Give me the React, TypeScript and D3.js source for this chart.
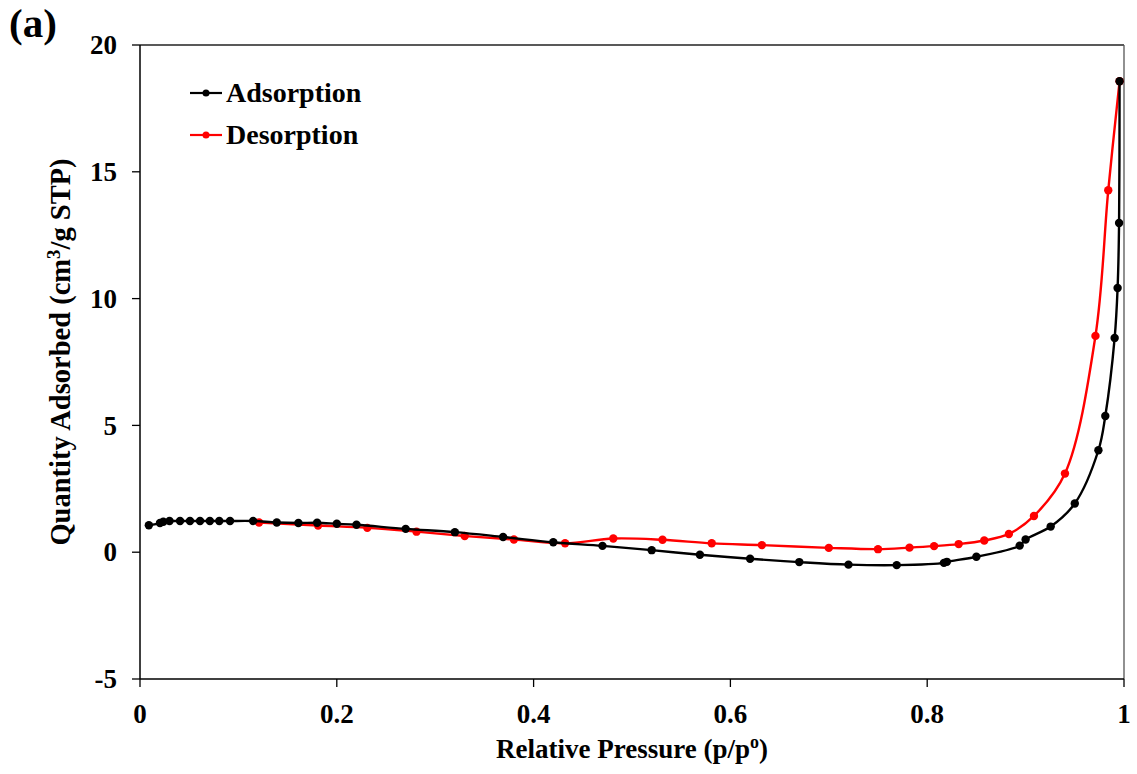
import React from "react";
import * as d3 from "d3";

const adsP = [0.009, 0.0203, 0.0237, 0.030, 0.0407, 0.0508, 0.061, 0.071, 0.0806, 0.0915, 0.115, 0.139, 0.161, 0.18, 0.2, 0.22, 0.27, 0.32, 0.369, 0.42, 0.47, 0.52, 0.569, 0.62, 0.67, 0.72, 0.769, 0.817, 0.820, 0.85, 0.894, 0.900, 0.9255, 0.950, 0.974, 0.981, 0.9905, 0.9935, 0.995, 0.9955];
const adsV = [1.06, 1.15, 1.2, 1.23, 1.23, 1.23, 1.23, 1.23, 1.23, 1.23, 1.23, 1.17, 1.15, 1.16, 1.12, 1.08, 0.92, 0.79, 0.6, 0.39, 0.25, 0.08, -0.1, -0.26, -0.39, -0.49, -0.51, -0.42, -0.38, -0.18, 0.26, 0.5, 1.01, 1.92, 4.02, 5.37, 8.45, 10.42, 12.98, 18.57];

const desP = [0.9955, 0.984, 0.971, 0.940, 0.9085, 0.883, 0.858, 0.832, 0.807, 0.782, 0.750, 0.700, 0.632, 0.581, 0.531, 0.481, 0.432, 0.380, 0.330, 0.281, 0.231, 0.181, 0.121];
const desV = [18.57, 14.27, 8.53, 3.10, 1.43, 0.72, 0.46, 0.32, 0.24, 0.18, 0.12, 0.17, 0.28, 0.35, 0.49, 0.54, 0.35, 0.5, 0.64, 0.81, 0.96, 1.05, 1.17];

const xTicks = [0, 0.2, 0.4, 0.6, 0.8, 1];
const xTickLabels = ["0", "0.2", "0.4", "0.6", "0.8", "1"];
const yTicks = [-5, 0, 5, 10, 15, 20];
const yTickLabels = ["-5", "0", "5", "10", "15", "20"];

const series = [
  { name: "Adsorption", color: "#000000", p: adsP, v: adsV },
  { name: "Desorption", color: "#ff0000", p: desP, v: desV },
];

const FONT = "'Liberation Serif', 'Times New Roman', serif";

export default function App() {
  const W = 1137, H = 774;
  const left = 140, right = 1124, top = 45, bottom = 679;
  const x = d3.scaleLinear().domain([0, 1]).range([left, right]);
  const y = d3.scaleLinear().domain([-5, 20]).range([bottom, top]);

  const line = d3
    .line<[number, number]>()
    .x((d) => x(d[0]))
    .y((d) => y(d[1]))
    .curve(d3.curveCatmullRom.alpha(0.5));

  const order = [series[1], series[0]];

  return (
    <svg width={W} height={H} style={{ position: "absolute", left: 0, top: 0, background: "#fff" }} fontFamily={FONT}>
      <rect x={0} y={0} width={W} height={H} fill="#fff" />
      {/* plot border */}
      <line x1={left} x2={right} y1={top} y2={top} stroke="#222" strokeWidth={1.3} />
      <line x1={right} x2={right} y1={top} y2={bottom} stroke="#555" strokeWidth={1.3} />
      {/* y axis */}
      <line x1={left} x2={left} y1={top} y2={bottom} stroke="#000" strokeWidth={1.5} />
      {yTicks.map((t, i) => (
        <g key={"y" + i}>
          <line x1={left - 8} x2={left} y1={y(t)} y2={y(t)} stroke="#000" strokeWidth={1.3} />
          <text x={117} y={y(t)} dy="0.34em" textAnchor="end" fontSize={27} fontWeight="bold">
            {yTickLabels[i]}
          </text>
        </g>
      ))}
      {/* x axis */}
      <line x1={left} x2={right} y1={bottom} y2={bottom} stroke="#000" strokeWidth={1.5} />
      {xTicks.map((t, i) => (
        <g key={"x" + i}>
          <line x1={x(t)} x2={x(t)} y1={bottom} y2={bottom + 8} stroke="#000" strokeWidth={1.3} />
          <text x={x(t)} y={723} textAnchor="middle" fontSize={27} fontWeight="bold">
            {xTickLabels[i]}
          </text>
        </g>
      ))}
      {/* series */}
      {order.map((s) => {
        const pts: [number, number][] = s.p.map((p, i) => [p, s.v[i]]);
        return (
          <g key={s.name}>
            <path d={line(pts) || ""} fill="none" stroke={s.color} strokeWidth={2.4} />
            {pts.map((d, i) => (
              <circle key={i} cx={x(d[0])} cy={y(d[1])} r={4.2} fill={s.color} />
            ))}
          </g>
        );
      })}
      {/* legend */}
      {series.map((s, i) => {
        const ly = 93 + i * 42;
        return (
          <g key={"lg" + i}>
            <line x1={190} x2={222} y1={ly} y2={ly} stroke={s.color} strokeWidth={2.2} />
            <circle cx={206} cy={ly} r={3.5} fill={s.color} />
            <text x={226} y={ly + 9} fontSize={28} fontWeight="bold">
              {s.name}
            </text>
          </g>
        );
      })}
      {/* titles */}
      <text x={632} y={758} textAnchor="middle" fontSize={27} fontWeight="bold">
        Relative Pressure (p/p
        <tspan fontSize={18} dy={-10}>o</tspan>
        <tspan dy={10}>)</tspan>
      </text>
      <text
        transform={`translate(70, 352) rotate(-90)`}
        textAnchor="middle"
        fontSize={28.5}
        fontWeight="bold"
      >
        Quantity Adsorbed (cm
        <tspan fontSize={19} dy={-10}>3</tspan>
        <tspan dy={10}>/g STP)</tspan>
      </text>
      <text x={9} y={37} fontSize={41} fontWeight="bold">
        (a)
      </text>
    </svg>
  );
}
